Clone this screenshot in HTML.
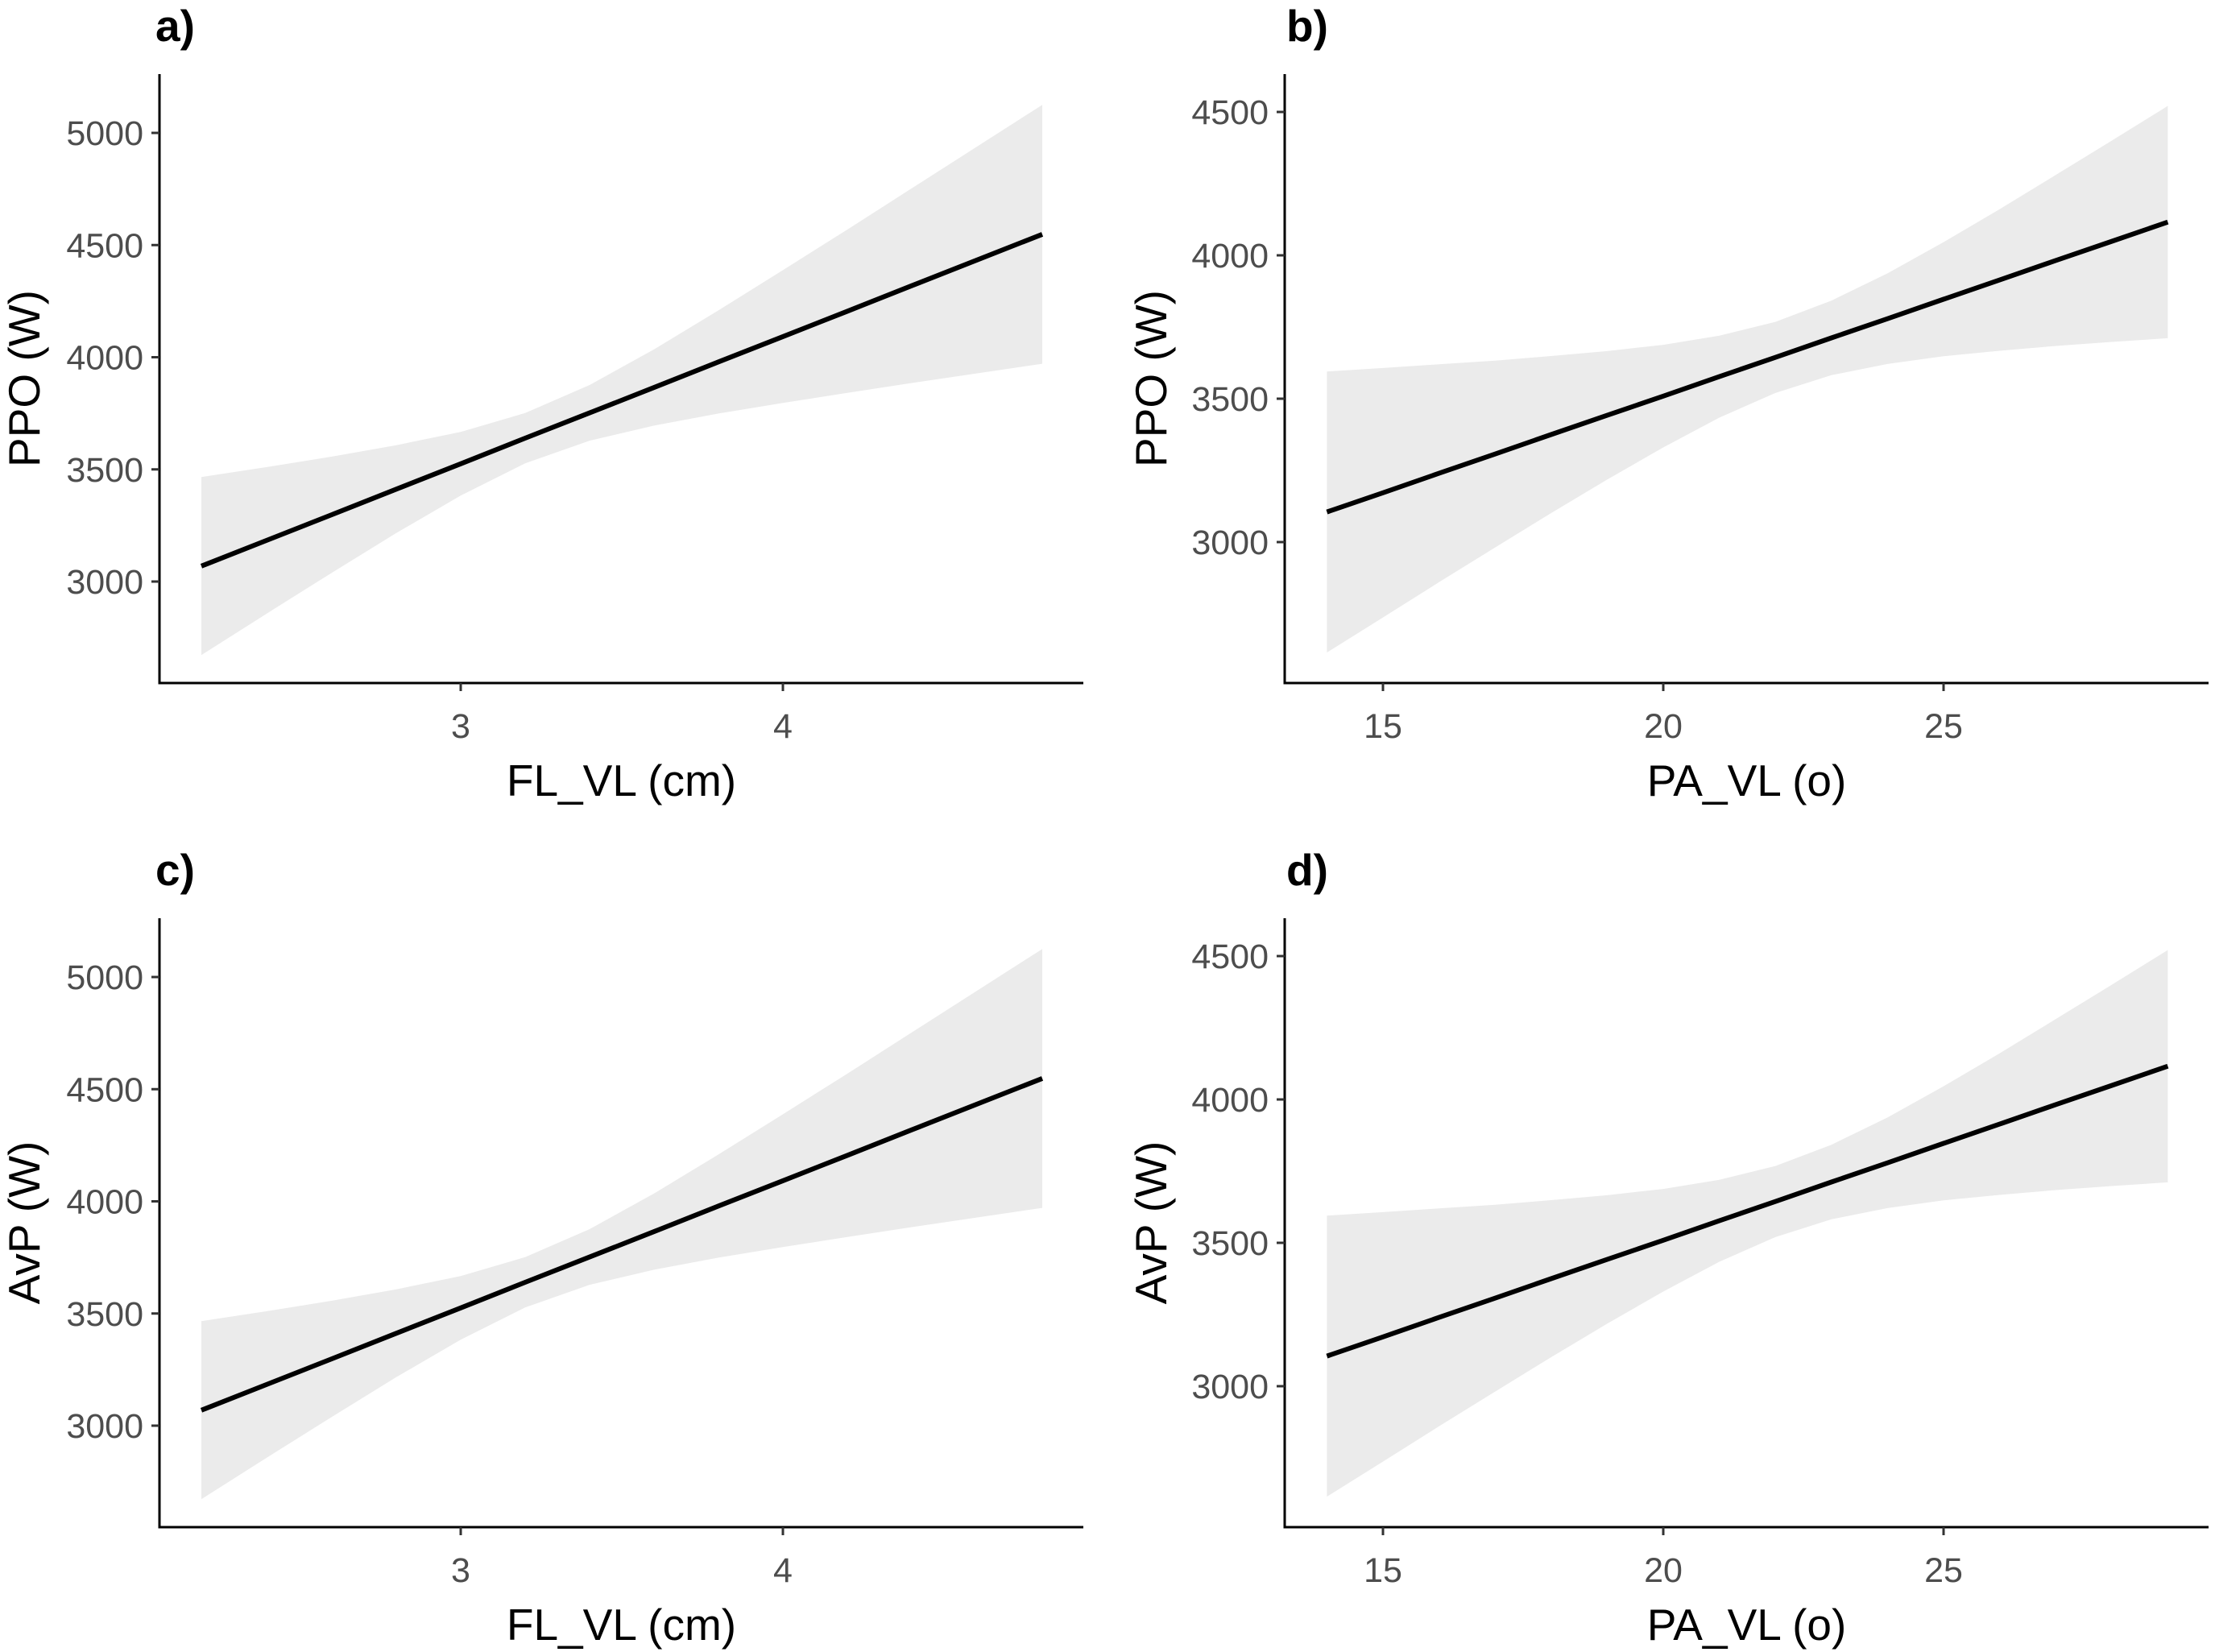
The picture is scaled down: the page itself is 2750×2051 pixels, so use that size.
<!DOCTYPE html>
<html><head><meta charset="utf-8"><style>
html,body{margin:0;padding:0;background:#fff}
svg{display:block}
text{font-family:"Liberation Sans",Arial,sans-serif}
</style></head><body>
<svg id="fig" width="2750" height="2051" viewBox="0 0 2750 2051" xmlns="http://www.w3.org/2000/svg"></svg>
<script>
// ---- data ----
const flX     = [2.195, 2.4, 2.6, 2.8, 3.0, 3.2, 3.4, 3.6, 3.8, 4.0, 4.2, 4.4, 4.805];
const ppoFitA = [3069, 3185, 3298, 3412, 3525, 3639, 3752, 3865, 3979, 4092, 4205, 4319, 4548];
const ppoLoA  = [2672, 2859, 3039, 3216, 3383, 3527, 3628, 3695, 3749, 3796, 3841, 3885, 3971];
const ppoHiA  = [3466, 3511, 3557, 3608, 3667, 3751, 3876, 4035, 4209, 4388, 4569, 4753, 5125];

const paX     = [14, 15, 16, 17, 18, 19, 20, 21, 22, 23, 24, 25, 26, 27, 28, 29];
const ppoFitB = [3105, 3172, 3240, 3307, 3375, 3442, 3509, 3577, 3644, 3712, 3779, 3847, 3914, 3982, 4049, 4116];
const ppoLoB  = [2615, 2737, 2860, 2981, 3101, 3218, 3330, 3434, 3520, 3582, 3621, 3648, 3667, 3684, 3698, 3711];
const ppoHiB  = [3595, 3607, 3620, 3633, 3649, 3666, 3688, 3720, 3768, 3842, 3937, 4046, 4161, 4280, 4400, 4521];

const avpFitC = [3069, 3185, 3298, 3412, 3525, 3639, 3752, 3865, 3979, 4092, 4205, 4319, 4548];
const avpLoC  = [2672, 2859, 3039, 3216, 3383, 3527, 3628, 3695, 3749, 3796, 3841, 3885, 3971];
const avpHiC  = [3466, 3511, 3557, 3608, 3667, 3751, 3876, 4035, 4209, 4388, 4569, 4753, 5125];

const avpFitD = [3105, 3172, 3240, 3307, 3375, 3442, 3509, 3577, 3644, 3712, 3779, 3847, 3914, 3982, 4049, 4116];
const avpLoD  = [2615, 2737, 2860, 2981, 3101, 3218, 3330, 3434, 3520, 3582, 3621, 3648, 3667, 3684, 3698, 3711];
const avpHiD  = [3595, 3607, 3620, 3633, 3649, 3666, 3688, 3720, 3768, 3842, 3937, 4046, 4161, 4280, 4400, 4521];

const yTicksFL = [3000, 3500, 4000, 4500, 5000];
const xTicksFL = [3, 4];
const yTicksPA = [3000, 3500, 4000, 4500];
const xTicksPA = [15, 20, 25];

const NS = "http://www.w3.org/2000/svg";
const svg = document.getElementById('fig');
function mk(tag, attrs, parent){
  const e = document.createElementNS(NS, tag);
  for (const k in attrs) e.setAttribute(k, attrs[k]);
  (parent||svg).appendChild(e);
  return e;
}

function panel(o){
  const g = mk('g', {});
  
  
  const dy = o.dy;
  const sx = v => o.x0px + (v - o.x0v) * o.xpu;
  const sy = v => o.y0px + dy - (v - o.y0v) * o.ypu;

  let d = '';
  o.xs.forEach((x,i)=>{ d += (i?'L':'M') + sx(x).toFixed(1) + ' ' + sy(o.hi[i]).toFixed(1); });
  for (let i=o.xs.length-1;i>=0;i--) d += 'L' + sx(o.xs[i]).toFixed(1) + ' ' + sy(o.lo[i]).toFixed(1);
  const rib = mk('path', {d: d + 'Z', fill: '#ebebeb', stroke: 'none'}, g);
  
  

  const pts = o.xs.map((x,i)=> sx(x).toFixed(1) + ',' + sy(o.fit[i]).toFixed(1)).join(' ');
  const ln = mk('polyline', {points: pts, fill: 'none', stroke: '#000', 'stroke-width': 6, 'stroke-linejoin': 'round'}, g);
  
  

  const yAx = mk('line', {x1: o.axL, y1: o.axT + dy, x2: o.axL, y2: o.axB + dy, stroke: '#000', 'stroke-width': 3}, g);
  
  
  const xAx = mk('line', {x1: o.axL - 1.5, y1: o.axB + dy, x2: o.axR, y2: o.axB + dy, stroke: '#000', 'stroke-width': 3}, g);
  
  

  o.yt.forEach(v=>{
    const y = sy(v);
    const t = mk('line', {x1: o.axL - 10, y1: y, x2: o.axL, y2: y, stroke: '#333', 'stroke-width': 3}, g);
    
    
    const lb = mk('text', {x: o.axL - 20, y: y + 15, 'text-anchor': 'end', 'font-size': 43, fill: '#4d4d4d'}, g);
    lb.textContent = v;
    
    
  });
  o.xt.forEach(v=>{
    const x = sx(v);
    const t = mk('line', {x1: x, y1: o.axB + dy, x2: x, y2: o.axB + dy + 10, stroke: '#333', 'stroke-width': 3}, g);
    
    
    const lb = mk('text', {x: x, y: 916 + dy, 'text-anchor': 'middle', 'font-size': 43, fill: '#4d4d4d'}, g);
    lb.textContent = v;
    
    
  });

  const xt = mk('text', {x: (o.axL + o.axR)/2, y: 988 + dy, 'text-anchor': 'middle', 'font-size': 55, fill: '#000'}, g);
  xt.textContent = o.xTitle;
  
  

  const yc = 470 + dy;
  const yt = mk('text', {x: 0, y: 0, 'text-anchor': 'middle', 'font-size': 55, fill: '#000',
    transform: 'translate(' + o.yTitleX + ',' + yc + ') rotate(-90)'}, g);
  yt.textContent = o.yTitle;
  
  

  const pl = mk('text', {x: o.labelX, y: 51 + dy, 'font-size': 55, 'font-weight': 'bold', fill: '#000'}, g);
  pl.textContent = o.id + ')';
  
  
}

const geomFL = {x0v: 3, x0px: 572, xpu: 400, y0v: 3000, y0px: 722, ypu: 0.2785,
  axL: 198, axR: 1345, axT: 92, axB: 848, yTitleX: 49, labelX: 193};
const geomPA = {x0v: 15, x0px: 1717, xpu: 69.6, y0v: 3000, y0px: 673, ypu: 0.356,
  axL: 1595, axR: 2742, axT: 92, axB: 848, yTitleX: 1448, labelX: 1597};

panel(Object.assign({}, geomFL, {id:'a', dy:0, xs: flX, fit: ppoFitA, lo: ppoLoA, hi: ppoHiA,
  yt: yTicksFL, xt: xTicksFL, xTitle: 'FL_VL (cm)', yTitle: 'PPO (W)'}));
panel(Object.assign({}, geomPA, {id:'b', dy:0, xs: paX, fit: ppoFitB, lo: ppoLoB, hi: ppoHiB,
  yt: yTicksPA, xt: xTicksPA, xTitle: 'PA_VL (o)', yTitle: 'PPO (W)'}));
panel(Object.assign({}, geomFL, {id:'c', dy:1048, xs: flX, fit: avpFitC, lo: avpLoC, hi: avpHiC,
  yt: yTicksFL, xt: xTicksFL, xTitle: 'FL_VL (cm)', yTitle: 'AvP (W)'}));
panel(Object.assign({}, geomPA, {id:'d', dy:1048, xs: paX, fit: avpFitD, lo: avpLoD, hi: avpHiD,
  yt: yTicksPA, xt: xTicksPA, xTitle: 'PA_VL (o)', yTitle: 'AvP (W)'}));
</script>
</body></html>
